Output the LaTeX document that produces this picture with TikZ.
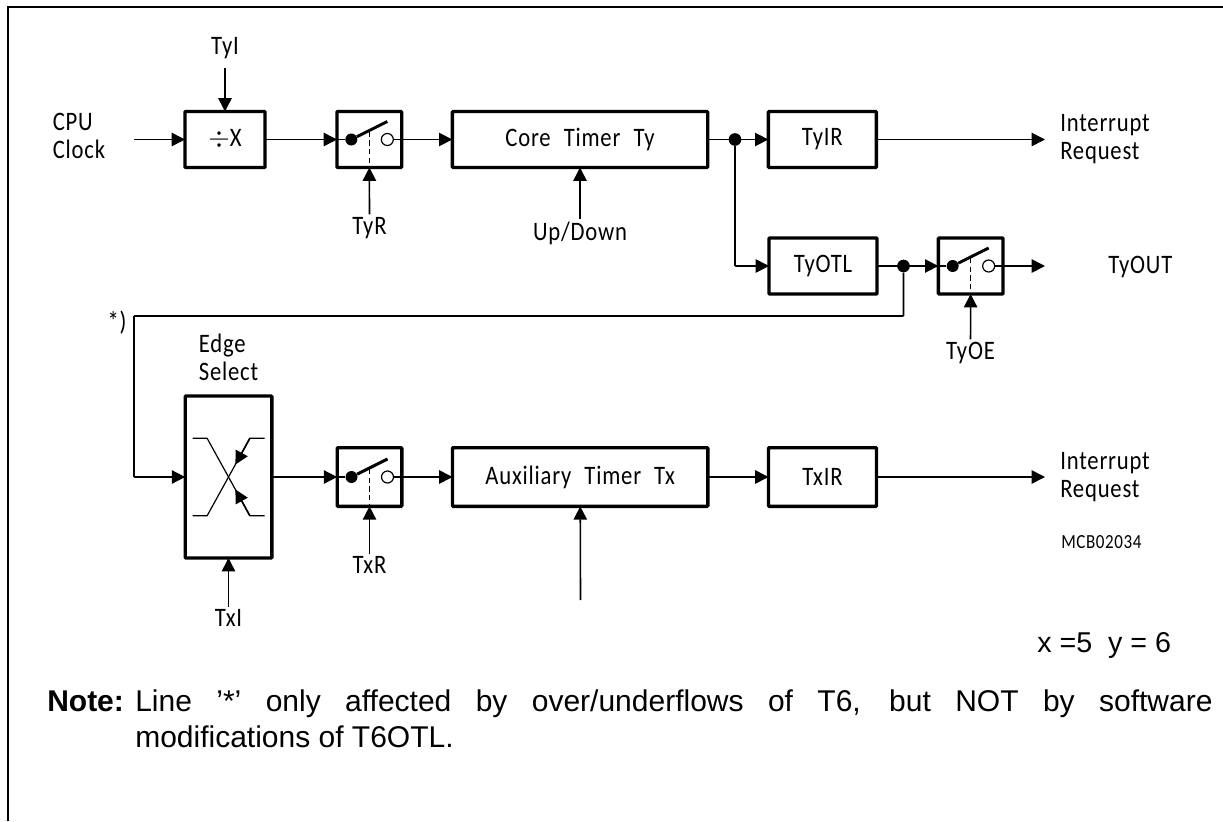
\documentclass[tikz,border=0pt]{standalone}
\usepackage{fontspec}
\setmainfont{Liberation Sans}
\newfontfamily\isofont[LetterSpace=3,FakeStretch=0.85,WordSpace=2.2]{Carlito}
\usetikzlibrary{arrows.meta,positioning}
\tikzset{
  block/.style={draw,line width=2.5pt,rounded corners=0.6pt,outer sep=0pt,
    minimum height=42pt,font=\isofont\fontsize{20}{21}\selectfont},
  switch/.style={block,minimum width=48.5pt},
  label/.style={font=\isofont\fontsize{20}{21}\selectfont,align=left,inner xsep=0pt,inner ysep=2pt},
  junction/.style={circle,fill,inner sep=0pt,minimum size=9.5pt},
  contact/.style={circle,fill,inner sep=0pt,minimum size=9pt},
  arrow/.style={-{Triangle[length=10pt,width=10pt]},line width=1.2pt},
  wire/.style={line width=1.2pt,rounded corners=0.6pt}
}
\begin{document}
\begin{tikzpicture}[x=0.75pt,y=-0.75pt]
  \useasboundingbox (0,0) rectangle (1223,821);
  % frame
  \draw[line width=1.5pt] (8,821) -- (8,7) -- (1223,7);
  % upper row
  \node[block,minimum width=60pt] (divx) at (225,139.5) {$\div$X};
  \node[switch,right=54pt of divx] (swy) {};
  \node[block,minimum width=191.5pt,right=38pt of swy] (core) {Core Timer Ty};
  \node[block,minimum width=81pt,right=45.5pt of core] (tyir) {TyIR};
  \node[block,minimum width=81pt] (tyotl) at (823,266) {TyOTL};
  \node[switch,right=46pt of tyotl] (swo) {};
  \node[junction] (jcore) at (735,139.5) {};
  \node[junction] (jotl) at (903.5,266) {};
  % lower row
  \node[block,minimum width=65pt,minimum height=121.5pt] (edge) at (228.5,477) {};
  \node[switch,minimum height=44pt,right=49pt of edge] (swx) {};
  \node[block,minimum height=44pt,minimum width=191.5pt,right=38pt of swx] (aux) {Auxiliary Timer Tx};
  \node[block,minimum height=44pt,minimum width=81pt,right=45.5pt of aux] (txir) {TxIR};
  % labels
  \node[label] (cpu) at (79,136) {CPU\\Clock};
  \node[label] (tyi) at (225,48) {TyI};
  \node[label] (tyr) at (369.5,228) {TyR};
  \node[label,below=38.5pt of core] (updown) {Up/Down};
  \node[label,anchor=west] (irqy) at (1060,139.5) {Interrupt\\Request};
  \node[label,anchor=west] (tyout) at (1108,267) {TyOUT};
  \node[label] (tyoe) at (970.5,353) {TyOE};
  \node[label] (star) at (117,323) {*)};
  \node[label,above=9pt of edge] (select) {Edge\\Select};
  \node[label] (txi) at (228.5,618) {TxI};
  \node[label] (txr) at (369.5,565) {TxR};
  \node[label,anchor=west] (irqx) at (1060,477) {Interrupt\\Request};
  \node[label,anchor=west,font=\isofont\fontsize{15}{16}\selectfont] (mcb) at (1061,542) {MCB02034};
  \node[anchor=west,inner sep=0pt,font=\fontsize{21.5}{26}\selectfont] (xy) at (1037,645) {x =5\ \ y = 6};
  \node[anchor=base west,inner sep=0pt,font=\bfseries\fontsize{22.5}{26}\selectfont] (note) at (47,711) {Note:};
  \node[anchor=north west,inner sep=0pt,text width=808pt,align=justify,
    font=\fontsize{22.5}{27.5}\selectfont] (notetext) at (135,689)
    {Line '*' only affected by over/underflows of T6, but NOT by software\linebreak modifications of T6OTL.};
  % free ends
  \coordinate (clk) at (134,139.5);
  \coordinate (outy) at (1045,139.5);
  \coordinate (outo) at (1045,266);
  \coordinate (outx) at (1045,477);
  \coordinate (auxin) at (580.5,600);
  \coordinate (corner) at (134,316);
  % switch contacts
  \foreach \sw in {swy,swo,swx}{
    \node[contact] (\sw dot) at ([xshift=-13.5pt]\sw.center) {};
    \node[contact,fill=white,draw,line width=0.9pt] (\sw open) at ([xshift=13.5pt]\sw.center) {};
    \draw[wire] (\sw.west) -- (\sw dot);
    \draw[wire] (\sw open) -- (\sw.east);
    \draw[line width=2.2pt] (\sw dot) -- ([xshift=13.5pt,yshift=13.5pt]\sw.center);
    \draw[line width=1.1pt,dashed,dash pattern=on 4pt off 2.5pt] ([yshift=6pt]\sw.center) -- (\sw.south);
  }
  % edge select symbol
  \draw[line width=0.9pt] ([shift={(-27pt,-29pt)}]edge.center) -- ++(11pt,0) coordinate (ea)
    -- ([shift={(16pt,29pt)}]edge.center) coordinate (eb) -- ++(11pt,0);
  \draw[line width=0.9pt] ([shift={(-27pt,29pt)}]edge.center) -- ++(11pt,0) coordinate (ec)
    -- ([shift={(16pt,-29pt)}]edge.center) coordinate (ed) -- ++(11pt,0);
  \path (ea) -- (eb) coordinate[pos=0.66] (eup);
  \path (ec) -- (ed) coordinate[pos=0.66] (edn);
  \draw[arrow] (eb) -- (eup);
  \draw[arrow] (ed) -- (edn);
  % connectors
  \draw[arrow] (clk) -- (divx);
  \draw[arrow,shorten <=5pt] (tyi) -- (divx);
  \draw[arrow] (divx) -- (swy);
  \draw[arrow] (tyr) -- (swy);
  \draw[arrow] (swy) -- (core);
  \draw[arrow] (updown) -- (core);
  \draw[arrow] (core) -- (tyir);
  \draw[arrow] (tyir) -- (outy);
  \draw[arrow,wire] (jcore) |- (tyotl);
  \draw[arrow] (tyotl) -- (swo);
  \draw[arrow] (swo) -- (outo);
  \draw[arrow] (tyoe) -- (swo);
  \draw[arrow,wire] (jotl) |- (corner) |- (edge);
  \draw[arrow] (edge) -- (swx);
  \draw[arrow] (txr) -- (swx);
  \draw[arrow] (swx) -- (aux);
  \draw[arrow] (auxin) -- (aux);
  \draw[arrow] (aux) -- (txir);
  \draw[arrow] (txir) -- (outx);
  \draw[arrow] (txi) -- (edge);
\end{tikzpicture}
\end{document}
